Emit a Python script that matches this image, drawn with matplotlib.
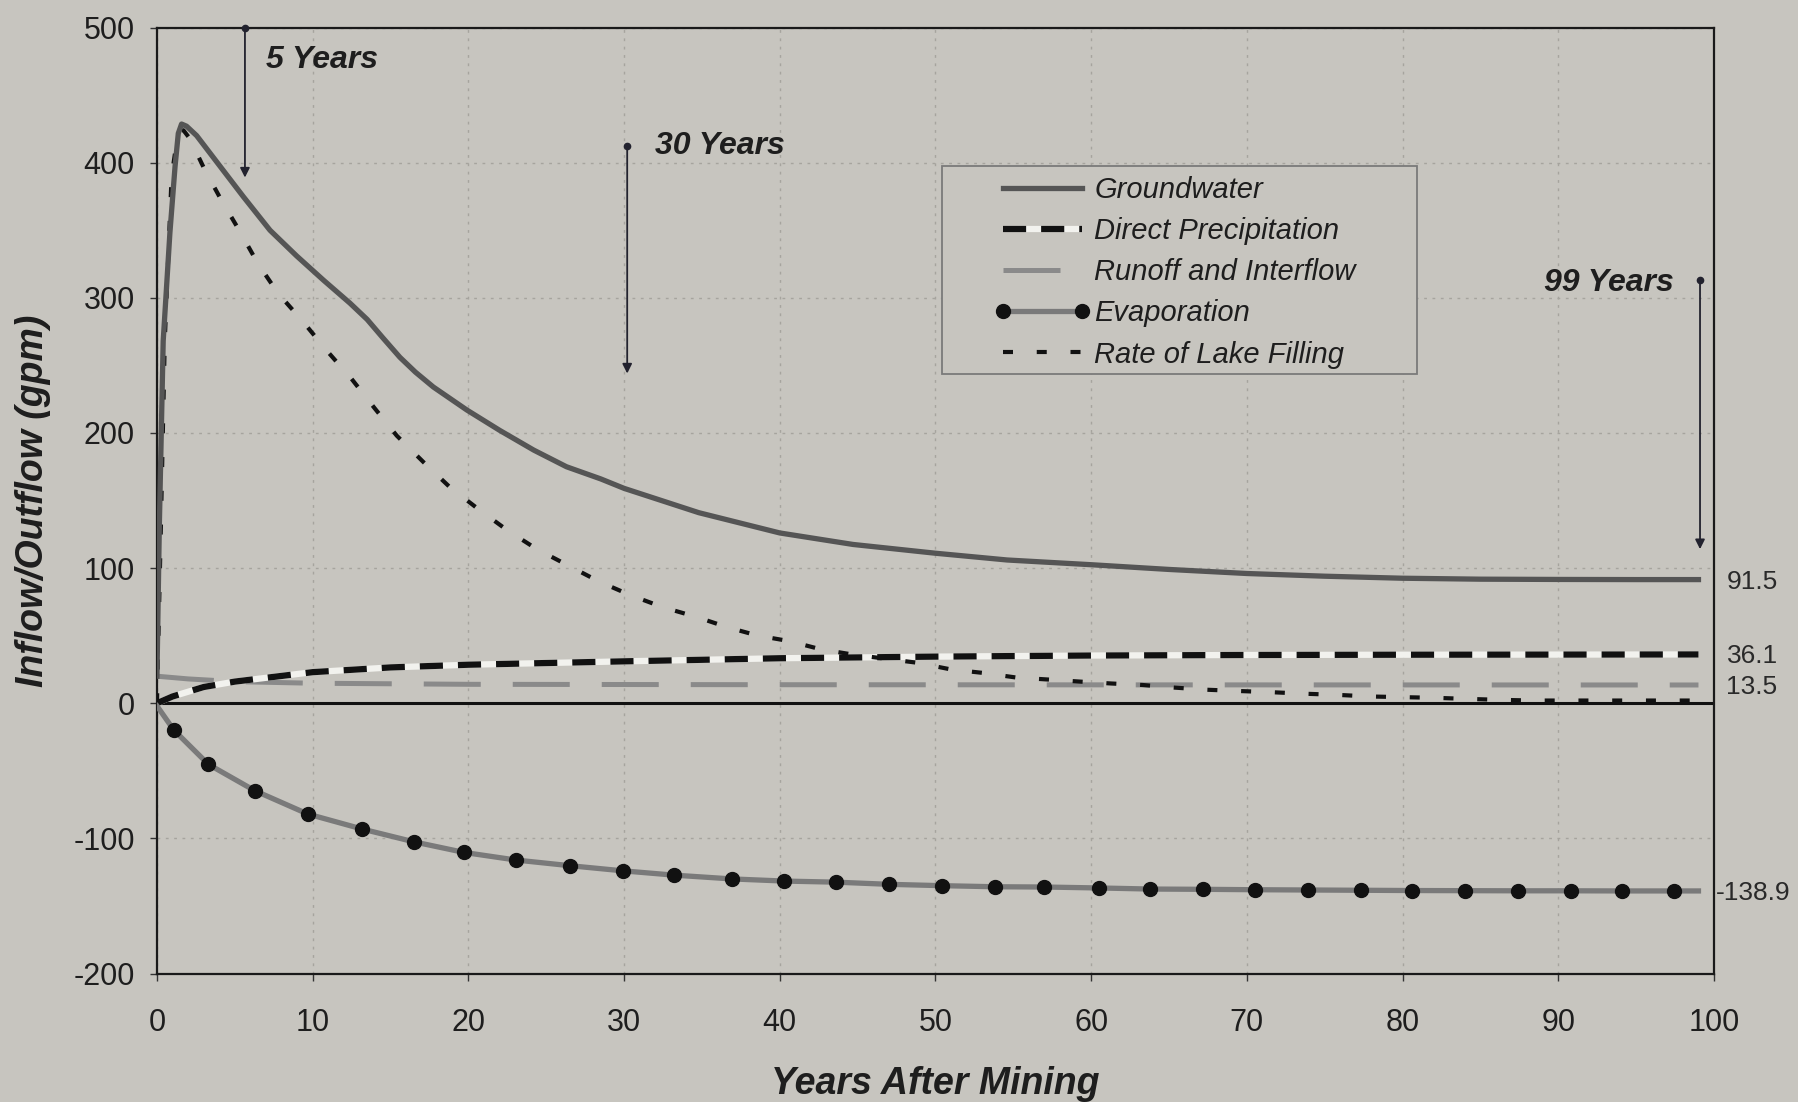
"""
Lake water balance after mining: inflow/outflow components (gpm) vs years.
Writes out.png.
"""

import matplotlib

matplotlib.use("Agg")
import matplotlib.pyplot as plt
from matplotlib.legend_handler import HandlerTuple
from matplotlib.patches import Rectangle

plt.rcParams["font.family"] = ["Liberation Sans", "DejaVu Sans"]
plt.rcParams["axes.unicode_minus"] = False

# --- data (years after mining, gpm) ---
GW_YEARS = [0, 0.15, 0.4, 0.83, 1.16, 1.37, 1.58, 1.9, 2.55, 3.83, 5.55, 7.26, 8.97,
            10.7, 12.4, 13.5, 14.5, 15.6, 16.6, 17.75, 19.9, 22.0, 24.2, 26.3, 28.5,
            30.0, 34.8, 40.0, 44.7, 50.0, 54.6, 60.0, 65.0, 70.0, 75.0, 80.0, 85.0,
            90.0, 95.0, 99.0]
GW_FLOW = [20, 130, 268, 348, 397, 421.7, 428.6, 427, 420, 400.7, 374.8, 350, 331,
           313, 296, 284, 270.5, 256, 245, 234, 217, 202, 187.3, 175, 166,
           159, 141, 126, 117.5, 111, 106, 102.5, 99, 96, 94, 92.5, 91.8,
           91.6, 91.5, 91.5]

PRECIP_YEARS = [0, 1, 3, 5, 10, 15, 20, 30, 40, 50, 60, 70, 80, 90, 99]
PRECIP_FLOW = [0, 5, 12, 16, 23, 26.5, 28.5, 31, 33.3, 34.5, 35.3, 35.7, 35.9, 36.0, 36.1]

RUNOFF_YEARS = [0, 2, 5, 10, 20, 40, 60, 99]
RUNOFF_FLOW = [20, 18, 16, 14.8, 14, 13.7, 13.6, 13.5]

EVAP_YEARS = [0, 1.08, 3.3, 6.28, 9.69, 13.15, 16.48, 19.72, 23.04, 26.5, 29.9, 33.2,
              36.9, 40.3, 43.6, 47.0, 50.4, 53.8, 57.0, 60.5, 63.8, 67.2, 70.5, 73.9,
              77.3, 80.6, 84.0, 87.4, 90.8, 94.1, 97.4, 99.0]
EVAP_FLOW = [-2, -19.8, -45.2, -64.7, -82, -93, -102.5, -110.4, -116, -120.2, -124, -127.2,
             -130, -131.6, -132.4, -134, -135, -135.8, -136, -136.7, -137.5, -137.7, -138,
             -138.2, -138.4, -138.6, -138.7, -138.8, -138.8, -138.9, -138.9, -138.9]

FILL_YEARS = [0, 0.25, 0.5, 0.94, 1.3, 1.7, 2.1, 3.08, 4.15, 5.33, 6.5, 7.8, 9.3, 10.9,
              12.5, 14.0, 15.4, 17.1, 18.8, 20.6, 22.5, 24.4, 26.4, 28.4, 30.4, 32.5,
              34.6, 36.7, 38.6, 40.6, 42.6, 44.7, 48.8, 51.0, 53.0, 55.2, 57.3, 59.3,
              61.3, 63.3, 65.3, 67.4, 69.6, 71.7, 73.8, 75.8, 77.9, 80.0, 82.1, 84.2,
              86.3, 88.4, 90.5, 94.6, 99.0]
FILL_FLOW = [0, 130, 268, 390, 418, 424, 418, 394.5, 372, 349, 325, 303, 283.5, 261,
             240, 218, 198, 178.6, 160, 144, 128, 114, 102, 90, 80, 71,
             64, 56, 50, 46, 40, 36, 30, 25, 22.5, 19, 17.5, 16,
             14.6, 13.5, 11.6, 10, 9, 8.1, 7, 6.2, 5, 4.5, 4, 3.2,
             2.5, 2, 2, 2, 2]

# final values printed to the right of the plot
END_LABELS = ["91.5", "36.1", "13.5", "-138.9"]
END_VALUES = [91.5, 36.1, 13.5, -138.9]

# time markers: label, year, arrow top, arrow bottom
MARKER_LABELS = ["5 Years", "30 Years", "99 Years"]
MARKER_YEARS = [5.65, 30.2, 99.1]
MARKER_TOP = [500, 412, 313]
MARKER_BOTTOM = [389, 244, 114]

X_TICKS = list(range(0, 101, 10))
Y_TICKS = list(range(-200, 501, 100))

BG = "#c7c5bf"
TEXT = "#1e1e1e"

fig = plt.figure(figsize=(17.98, 11.02), dpi=100, facecolor=BG)
ax = fig.add_axes([0.0873, 0.1166, 0.866, 0.8584], facecolor=BG)

ax.set_xlim(0, 100)
ax.set_ylim(-200, 500)
ax.set_xticks(X_TICKS)
ax.set_yticks(Y_TICKS)
ax.grid(True, color="#a6a49e", linestyle=(0, (2, 4)), linewidth=1.0, zorder=0)
ax.set_axisbelow(True)
ax.axhline(0, color="#111111", linewidth=2.2, zorder=1.5)

for side in ("left", "right", "top", "bottom"):
    ax.spines[side].set_color("#1a1a1a")
    ax.spines[side].set_linewidth(1.6)
ax.tick_params(axis="both", direction="out", length=5, width=1.0, color="#333333",
               labelsize=22, labelcolor=TEXT)
ax.tick_params(axis="x", pad=20)
ax.tick_params(axis="y", pad=11)

# series
runoff, = ax.plot(RUNOFF_YEARS, RUNOFF_FLOW, color="#8a8a8a", linewidth=3.6,
                  dashes=(11.4, 6.4), zorder=2)
precip_bg, = ax.plot(PRECIP_YEARS, PRECIP_FLOW, color="#f2f2ee", linewidth=4.5,
                     solid_capstyle="butt", zorder=3)
precip, = ax.plot(PRECIP_YEARS, PRECIP_FLOW, color="#111111", linewidth=4.5,
                  dashes=(3.7, 2.4), dash_capstyle="butt", zorder=3.1)
fill, = ax.plot(FILL_YEARS, FILL_FLOW, color="#111111", linewidth=3.0,
                dashes=(2.4, 5.7), zorder=4)
evap, = ax.plot(EVAP_YEARS, EVAP_FLOW, color="#7a7a7a", linewidth=3.8, marker="o",
                markersize=10, markerfacecolor="#111111", markeredgecolor="#111111",
                markevery=slice(1, -1), zorder=5)
gw, = ax.plot(GW_YEARS, GW_FLOW, color="#555555", linewidth=3.8, zorder=6,
              solid_joinstyle="round")

# time-marker arrows
for label, yr, top, bottom in zip(MARKER_LABELS, MARKER_YEARS, MARKER_TOP, MARKER_BOTTOM):
    ax.annotate("", xy=(yr, bottom), xytext=(yr, top),
                arrowprops=dict(arrowstyle="-|>", color="#22222e", lw=1.3,
                                mutation_scale=14, shrinkA=0, shrinkB=0), zorder=7)
    ax.plot([yr], [top], "o", color="#22222e", markersize=4.5, zorder=7, clip_on=False)

note_style = dict(fontsize=23, fontweight="bold", style="italic", color=TEXT, va="center")
ax.text(7.0, 476, MARKER_LABELS[0], ha="left", **note_style)
ax.text(32.0, 412, MARKER_LABELS[1], ha="left", **note_style)
ax.text(97.4, 311, MARKER_LABELS[2], ha="right", **note_style)

# end values right of the frame
for txt, val in zip(END_LABELS, END_VALUES):
    x = 100.1 if txt.startswith("-") else 100.8
    ax.text(x, val - 1.5, txt, fontsize=19, color="#2a2a2a", ha="left", va="center",
            clip_on=False)

ax.set_xlabel("Years After Mining", fontsize=27, fontweight="bold", style="italic",
              color=TEXT, labelpad=20)
ax.set_ylabel("Inflow/Outflow (gpm)", fontsize=27, fontweight="bold", style="italic",
              color=TEXT, labelpad=16)

# legend: manual frame, entries without their own box
ax.add_patch(Rectangle((0.504, 0.634), 0.305, 0.22, transform=ax.transAxes,
                       facecolor=BG, edgecolor="#7a7a7a", linewidth=1.3, zorder=8))
handles = [gw, (precip_bg, precip), runoff, evap, fill]
labels = ["Groundwater", "Direct Precipitation", "Runoff and Interflow",
          "Evaporation", "Rate of Lake Filling"]
leg = ax.legend(handles, labels, loc="upper left", bbox_to_anchor=(0.538, 0.843),
                frameon=False, handlelength=3.3, handletextpad=0.12,
                labelspacing=0.45, borderpad=0, borderaxespad=0, numpoints=2,
                prop={"style": "italic", "size": 21},
                handler_map={tuple: HandlerTuple(ndivide=1)})
leg.set_zorder(9)
for t in leg.get_texts():
    t.set_color(TEXT)

fig.savefig("out.png", dpi=100, facecolor=BG)
